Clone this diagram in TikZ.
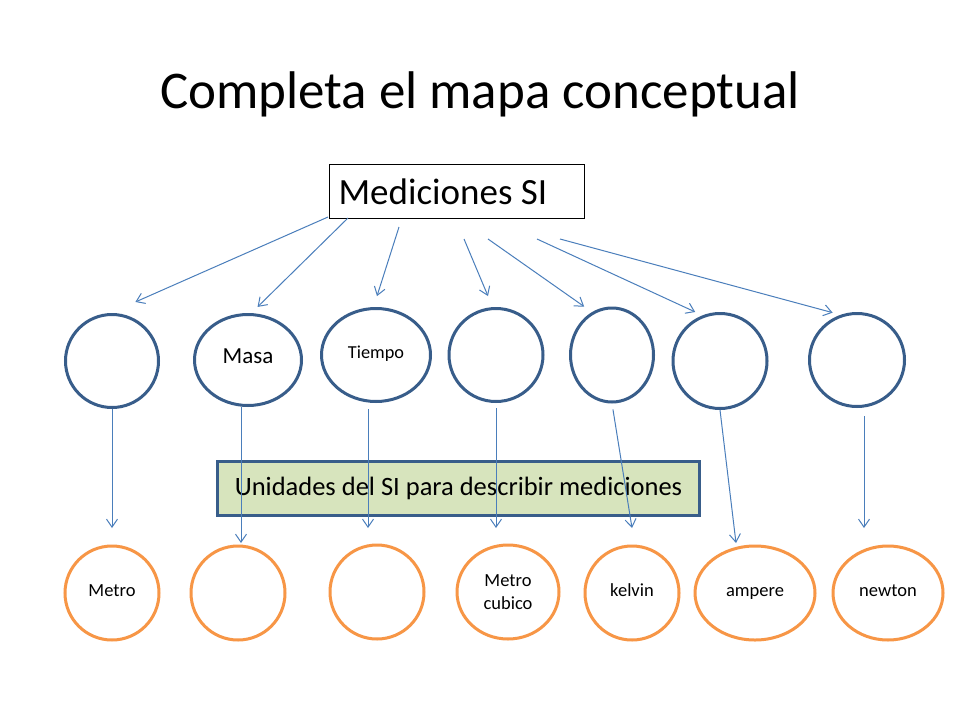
\documentclass[tikz,border=0pt]{standalone}
\usepackage{fontspec}
\setmainfont{Carlito}
\usetikzlibrary{shapes.geometric,arrows.meta}

\definecolor{circblue}{HTML}{385D8A}
\definecolor{arrblue}{HTML}{4A7EBB}
\definecolor{unitorange}{HTML}{F79646}
\definecolor{boxgreen}{HTML}{D7E4BD}

\tikzstyle{topcirc} = [ellipse, draw=circblue, line width=3pt, inner sep=0pt,
  text height=0.7em, text depth=0.056em]
\tikzstyle{unitcirc} = [ellipse, draw=unitorange, line width=3pt, inner sep=0pt, align=center,
  font=\fontsize{18.5}{22.5}\selectfont, text height=0.7em, text depth=0.056em]
\tikzstyle{arr} = [draw=arrblue, line width=1pt, -{Straight Barb[length=8pt,width=11pt]}]

\begin{document}
\begin{tikzpicture}[x=1pt, y=-1pt]
  \fill[white] (0, 0) rectangle (960, 720);
  \useasboundingbox (0, 0) rectangle (960, 720);
  \node[anchor=base, font=\fontsize{53}{60}\selectfont] (title) at (480, 108) {Completa el mapa conceptual};
  \node[draw, line width=1.2pt, anchor=north west, text width=237pt, inner xsep=9pt,
    minimum height=54pt, align=flush left, font=\fontsize{37}{44}\selectfont] (med) at (329, 164) {Mediciones SI};
  % magnitudes
  \foreach \i/\x/\y/\w/\h/\fs/\txt in {1/112/361/93/93/10/{}, 2/248/360/107/91/23/Masa,
    3/376/355/109/93/18.3/Tiempo, 4/496/355/94/93/10/{}, 5/612/355/83/94/10/{},
    6/720/361/94/95/10/{}, 7/857/360/95/93/10/{}} {
    \node[topcirc, minimum width=\w pt, minimum height=\h pt, font=\fontsize{\fs}{\fs}\selectfont]
      (t\i) at (\x, \y) {\txt};
  }
  % unidades
  \foreach \i/\x/\y/\w/\txt in {1/112/593/94/Metro, 2/238/593/94/{}, 3/377/592/94/{},
    5/632/593/94/kelvin, 6/755/593/120/ampere, 7/888/593/110/newton} {
    \node[unitcirc, minimum width=\w pt, minimum height=94pt] (b\i) at (\x, \y) {\txt};
  }
  \node[unitcirc, text height={}, text depth={}, minimum width=102pt, minimum height=94pt]
    (b4) at (508, 592) {Metro\\cubico};
  \node[draw=circblue, fill=boxgreen, line width=3pt, minimum width=482pt, minimum height=54pt,
    font=\fontsize{26.5}{32}\selectfont] (uni) at (458.5, 488.5) {Unidades del SI para describir mediciones};
  % flechas de arriba
  \foreach \i/\sx/\sy/\a/\g in {1/328/217/92.5/27.4, 2/348/218/86.6/8.8, 3/399/227/93/11.5,
    4/464/239/94/12, 5/488/239/115.3/9.6, 6/537/239/111.8/8, 7/560/239/110.9/8.2} {
    \coordinate (s\i) at (\sx, \sy);
    \draw[arr, shorten >=\g pt] (s\i) -- (t\i.\a);
  }
  % flechas de abajo
  \foreach \i/\ex/\ey/\g in {1/112/528/0, 2/241/543/0, 3/368/528/6, 4/496/528/5, 7/864/528/8} {
    \coordinate (e\i) at (\ex, \ey);
    \draw[arr, shorten <=\g pt] (t\i.south -| e\i) -- (e\i);
  }
  \foreach \i/\ex/\ey/\g in {5/632/528/6, 6/736/543/0} {
    \coordinate (e\i) at (\ex, \ey);
    \draw[arr, shorten <=\g pt] (t\i.south) -- (e\i);
  }
\end{tikzpicture}
\end{document}
